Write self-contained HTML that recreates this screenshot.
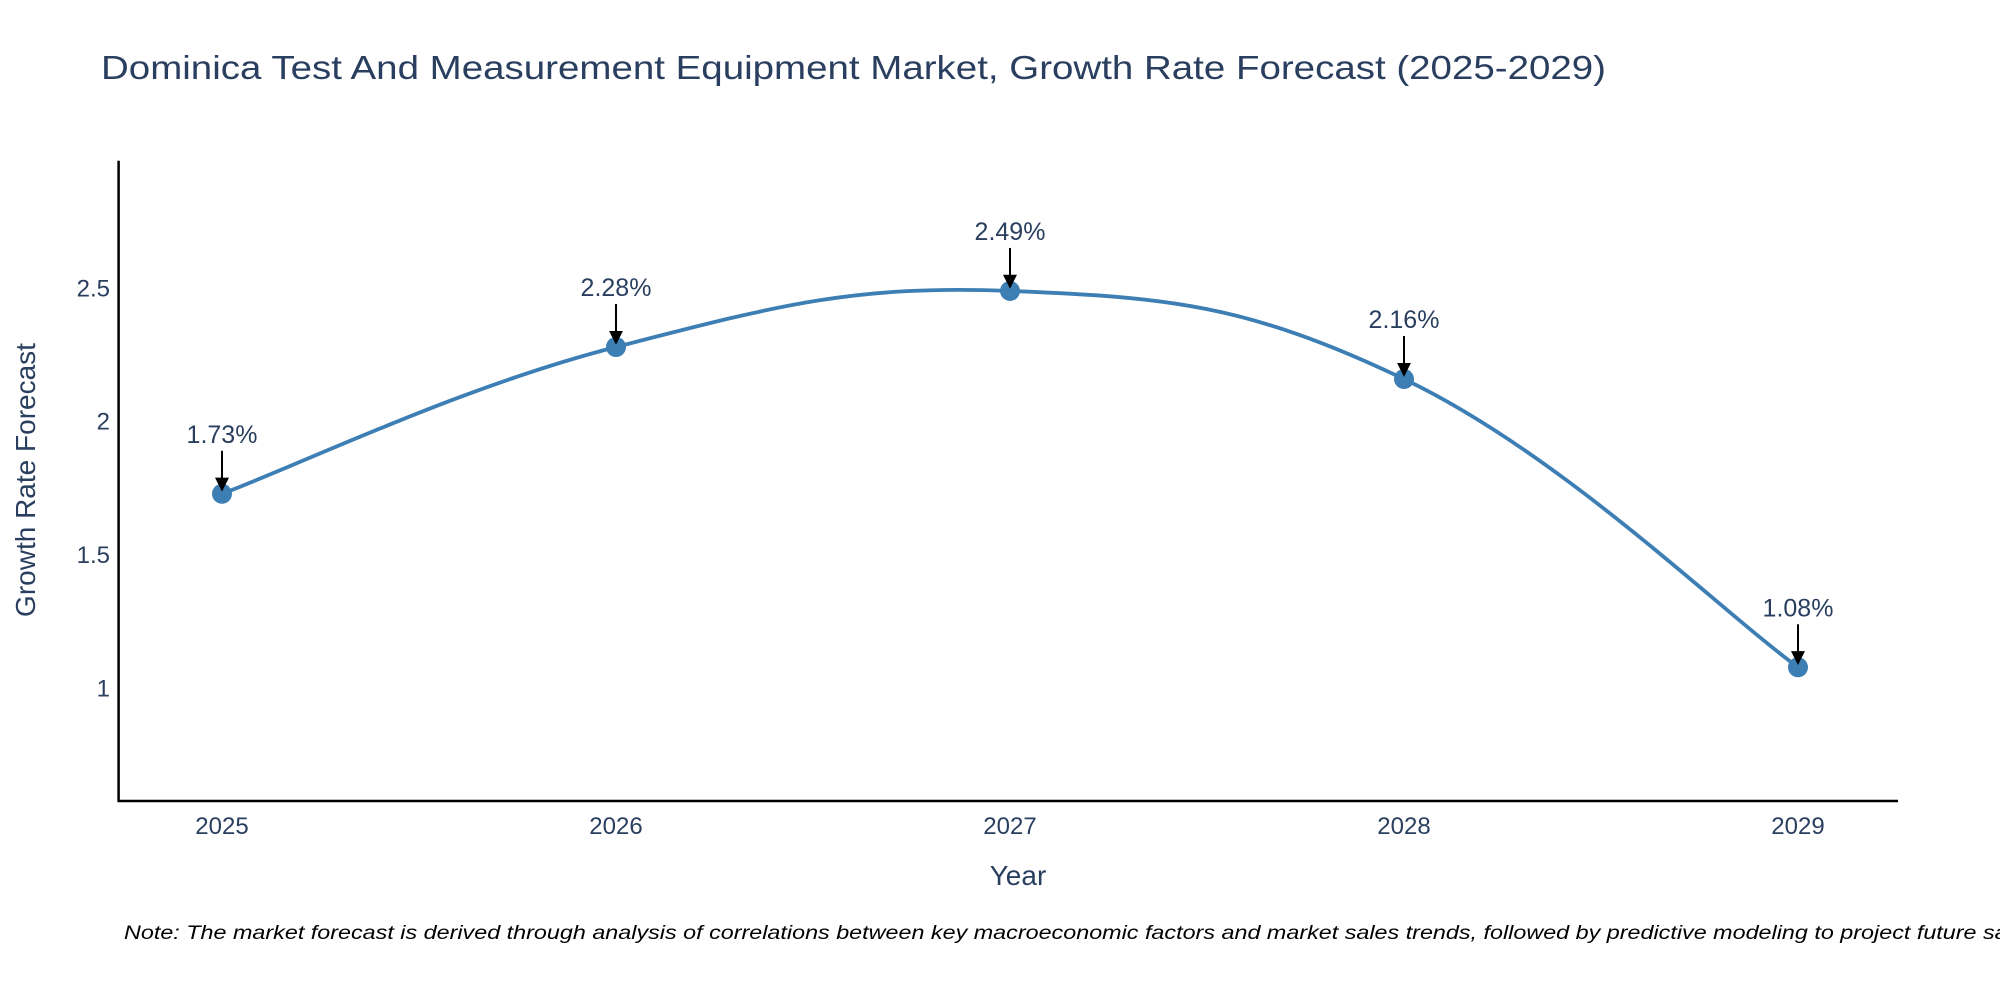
<!DOCTYPE html>
<html><head><meta charset="utf-8"><style>
html,body{margin:0;padding:0;background:#fff;}
svg{display:block;font-family:"Liberation Sans","DejaVu Sans",sans-serif;}
</style></head><body>
<svg id="chart" width="2000" height="1000" viewBox="0 0 2000 1000" xmlns="http://www.w3.org/2000/svg">
<text x="101" y="79" font-size="33" fill="#2a3f5f" textLength="1505" lengthAdjust="spacingAndGlyphs">Dominica Test And Measurement Equipment Market, Growth Rate Forecast (2025-2029)</text>
<g id="axes"></g>
<g id="series"></g>
<g id="annos"></g>
<text x="1018" y="885" font-size="28" fill="#2a3f5f" text-anchor="middle">Year</text>
<text transform="translate(35,480) rotate(-90)" font-size="28" fill="#2a3f5f" text-anchor="middle">Growth Rate Forecast</text>
<text x="124" y="939" font-size="19" font-style="italic" fill="#000" textLength="1920" lengthAdjust="spacingAndGlyphs">Note: The market forecast is derived through analysis of correlations between key macroeconomic factors and market sales trends, followed by predictive modeling to project future sales.</text>
</svg>
<script>
const years = ["2025","2026","2027","2028","2029"];
const growthValues = [1.73, 2.28, 2.49, 2.16, 1.08];
const valueLabels = ["1.73%","2.28%","2.49%","2.16%","1.08%"];
const yTickValues = [1, 1.5, 2, 2.5];
const yTickLabels = ["1","1.5","2","2.5"];

const NS="http://www.w3.org/2000/svg";
const plotL=118.6, plotR=1898, plotT=160.7, plotB=801;
const x0=222, x1=1798;
const yMin=0.579, yMax=2.978;
function xScale(i){return x0+(x1-x0)*i/(years.length-1);}
function yScale(v){return plotB-(v-yMin)/(yMax-yMin)*(plotB-plotT);}
function mk(tag,attrs,parent){const e=document.createElementNS(NS,tag);for(const k in attrs)e.setAttribute(k,attrs[k]);parent.appendChild(e);return e;}
const axes=document.getElementById('axes'), series=document.getElementById('series'), annos=document.getElementById('annos');

const ya=mk('line',{x1:plotL,y1:plotT,x2:plotL,y2:plotB+1,stroke:'#000','stroke-width':2.5},axes);


const xa=mk('line',{x1:plotL-1,y1:plotB,x2:plotR,y2:plotB,stroke:'#000','stroke-width':2.5},axes);



yTickValues.forEach((v,i)=>{
  const t=mk('text',{x:110,y:yScale(v)+8,'font-size':24,fill:'#2a3f5f','text-anchor':'end'},axes);
  t.textContent=yTickLabels[i];
  
  
});
years.forEach((yr,i)=>{
  const t=mk('text',{x:xScale(i),y:834,'font-size':24,fill:'#2a3f5f','text-anchor':'middle'},axes);
  t.textContent=yr;
  
  
});

const pts=growthValues.map((v,i)=>[xScale(i),yScale(v)]);
let d='M'+pts[0][0]+','+pts[0][1];
const s=0.6;
for(let i=0;i<pts.length-1;i++){
  const p0=pts[Math.max(0,i-1)],p1=pts[i],p2=pts[i+1],p3=pts[Math.min(pts.length-1,i+2)];
  const c1=[p1[0]+(p2[0]-p0[0])*s/3,p1[1]+(p2[1]-p0[1])*s/3];
  const c2=[p2[0]-(p3[0]-p1[0])*s/3,p2[1]-(p3[1]-p1[1])*s/3];
  d+=' C'+c1[0]+','+c1[1]+' '+c2[0]+','+c2[1]+' '+p2[0]+','+p2[1];
}
const line=mk('path',{d:d,fill:'none',stroke:'#3d7fb4','stroke-width':3.8},series);



mk('defs',{},annos).innerHTML='<marker id="ah" viewBox="0 0 10 10" refX="8" refY="5" markerWidth="7" markerHeight="7" orient="auto"><path d="M0,0 L10,5 L0,10 z" fill="#000"/></marker>';
pts.forEach((p,i)=>{
  const c=mk('circle',{cx:p[0],cy:p[1],r:10,fill:'#3d7fb4'},series);
  
  
  const a=mk('line',{x1:p[0],y1:p[1]-43,x2:p[0],y2:p[1]-5,stroke:'#000','stroke-width':2,'marker-end':'url(#ah)'},annos);
  
  
  const t=mk('text',{x:p[0],y:p[1]-51,'font-size':25,fill:'#2a3f5f','text-anchor':'middle'},annos);
  t.textContent=valueLabels[i];
  
  
});
</script>
</body></html>
